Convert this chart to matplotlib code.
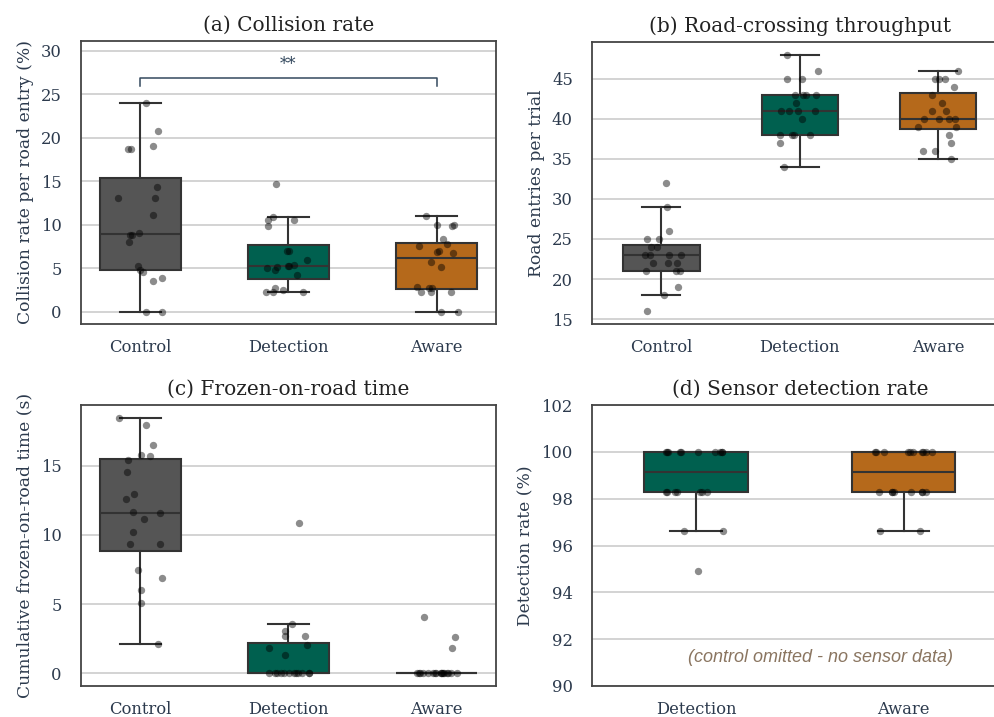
import numpy as np
import matplotlib
matplotlib.use("Agg")
import matplotlib.pyplot as plt

plt.rcParams['font.family'] = ['DejaVu Serif']

groups = ["Control", "Detection", "Aware"]
colors = {"Control": "#555555", "Detection": "#00604f", "Aware": "#b5691b"}

# (a) collision rate per road entry (%)
coll_control = [24.0, 20.8, 19.0, 18.7, 18.7, 14.3, 13.1, 13.1, 11.1, 9.1,
                8.8, 8.8, 8.0, 5.3, 4.8, 4.6, 3.9, 3.5, 0.0, 0.0]
coll_detection = [14.7, 10.9, 10.6, 10.6, 9.8, 7.0, 7.0, 5.9, 5.4, 5.3,
                  5.3, 5.1, 5.0, 4.8, 4.2, 2.7, 2.5, 2.3, 2.3, 2.3]
coll_aware = [11.0, 10.0, 10.0, 9.8, 8.4, 7.8, 7.6, 7.0, 6.9, 6.7,
              5.7, 5.1, 2.9, 2.7, 2.7, 2.3, 2.3, 2.3, 0.0, 0.0]

# (b) road entries per trial
thr_control = [32, 29, 26, 25, 25, 24, 24, 23, 23, 23, 23, 22, 22, 22, 21, 21, 21, 19, 18, 16]
thr_detection = [48, 46, 45, 45, 43, 43, 43, 43, 42, 41, 41, 41, 41, 40, 38, 38, 38, 38, 37, 34]
thr_aware = [46, 45, 45, 45, 44, 43, 42, 41, 41, 40, 40, 40, 40, 39, 39, 38, 37, 36, 36, 35]

# (c) cumulative frozen-on-road time (s)
frz_control = [18.46, 17.98, 16.54, 15.77, 15.70, 15.41, 14.54, 12.93, 12.57, 11.66,
               11.56, 11.18, 10.24, 9.35, 9.35, 7.45, 6.92, 6.03, 5.05, 2.12]
frz_detection = [10.84, 3.53, 3.05, 2.72, 2.72, 2.02, 1.83, 1.30] + [0.0] * 12
frz_aware = [4.04, 2.64, 1.83] + [0.0] * 17

# (d) sensor detection rate (%)
det_groups = ["Detection", "Aware"]
det_detection = [100.0] * 10 + [98.305] * 7 + [96.610] * 2 + [94.915]
det_aware = [100.0] * 10 + [98.305] * 8 + [96.610] * 2

TEXT = "#2c3a4d"
rng = np.random.default_rng(7)

fig = plt.figure(figsize=(9.95, 7.17), dpi=100)
W, H = 995.0, 717.0
axw = 415.0 / W


def make_ax(left_px, top_px, bottom_px):
    return fig.add_axes([left_px / W, (H - bottom_px) / H, axw, (bottom_px - top_px) / H])


def panel(ax, names, datasets, title, ylabel, box_w=0.55):
    pos = np.arange(len(names))
    bp = ax.boxplot(datasets, positions=pos, widths=box_w, patch_artist=True,
                    showfliers=False, whis=1.5,
                    medianprops=dict(color="#333333", lw=1.5),
                    whiskerprops=dict(color="#333333", lw=1.5),
                    capprops=dict(color="#333333", lw=1.5),
                    boxprops=dict(edgecolor="#333333", lw=1.5),
                    capwidths=box_w / 2, zorder=2)
    for patch, n in zip(bp["boxes"], names):
        patch.set_facecolor(colors[n])
    for i, d in enumerate(datasets):
        jit = rng.uniform(-0.15, 0.15, len(d))
        ax.scatter(i + jit, d, s=28, color="black", alpha=0.45, lw=0, zorder=3)
    ax.set_xticks(pos)
    ax.set_xticklabels(names)
    ax.set_title(title, fontsize=14.5, color="#222222", pad=7)
    ax.set_ylabel(ylabel, fontsize=12.3, color=TEXT, labelpad=5)
    ax.yaxis.grid(True, color="#d0d0d0", lw=1.3, zorder=0)
    ax.set_axisbelow(True)
    ax.tick_params(axis="both", length=0, labelsize=11.8, labelcolor=TEXT)
    ax.tick_params(axis="x", pad=10.5)
    ax.tick_params(axis="y", pad=14)
    for sp in ax.spines.values():
        sp.set_color("#444444")
        sp.set_linewidth(1.3)


ax_a = make_ax(81, 41, 324)
panel(ax_a, groups, [coll_control, coll_detection, coll_aware],
      "(a) Collision rate", "Collision rate per road entry (%)")
ax_a.set_xlim(-0.4, 2.4)
ax_a.set_ylim(-1.4, 31.1)
ax_a.set_yticks(range(0, 31, 5))
ax_a.plot([0, 0, 2, 2], [25.9, 26.9, 26.9, 25.9], color="#34495e", lw=1.1, zorder=4)
ax_a.text(1, 27.4, "**", ha="center", va="bottom", fontsize=12, color="#34495e")

ax_b = make_ax(592.3, 41.7, 324)
panel(ax_b, groups, [thr_control, thr_detection, thr_aware],
      "(b) Road-crossing throughput", "Road entries per trial")
ax_b.set_xlim(-0.5, 2.5)
ax_b.set_ylim(14.4, 49.6)
ax_b.set_yticks(range(15, 46, 5))

ax_c = make_ax(81, 405, 686)
panel(ax_c, groups, [frz_control, frz_detection, frz_aware],
      "(c) Frozen-on-road time", "Cumulative frozen-on-road time (s)")
ax_c.set_xlim(-0.4, 2.4)
ax_c.set_ylim(-0.92, 19.4)
ax_c.set_yticks([0, 5, 10, 15])

ax_d = make_ax(592.3, 405, 686)
panel(ax_d, det_groups, [det_detection, det_aware],
      "(d) Sensor detection rate", "Detection rate (%)", box_w=0.5)
ax_d.set_xlim(-0.5, 1.5)
ax_d.set_ylim(90, 102)
ax_d.set_yticks(range(90, 103, 2))
ax_d.text(0.55, 0.1, "(control omitted - no sensor data)", transform=ax_d.transAxes,
          ha="center", va="center", fontsize=13, style="italic",
          family=["Liberation Sans", "DejaVu Sans"], color="#8a7560")

fig.savefig("out.png", dpi=100)
